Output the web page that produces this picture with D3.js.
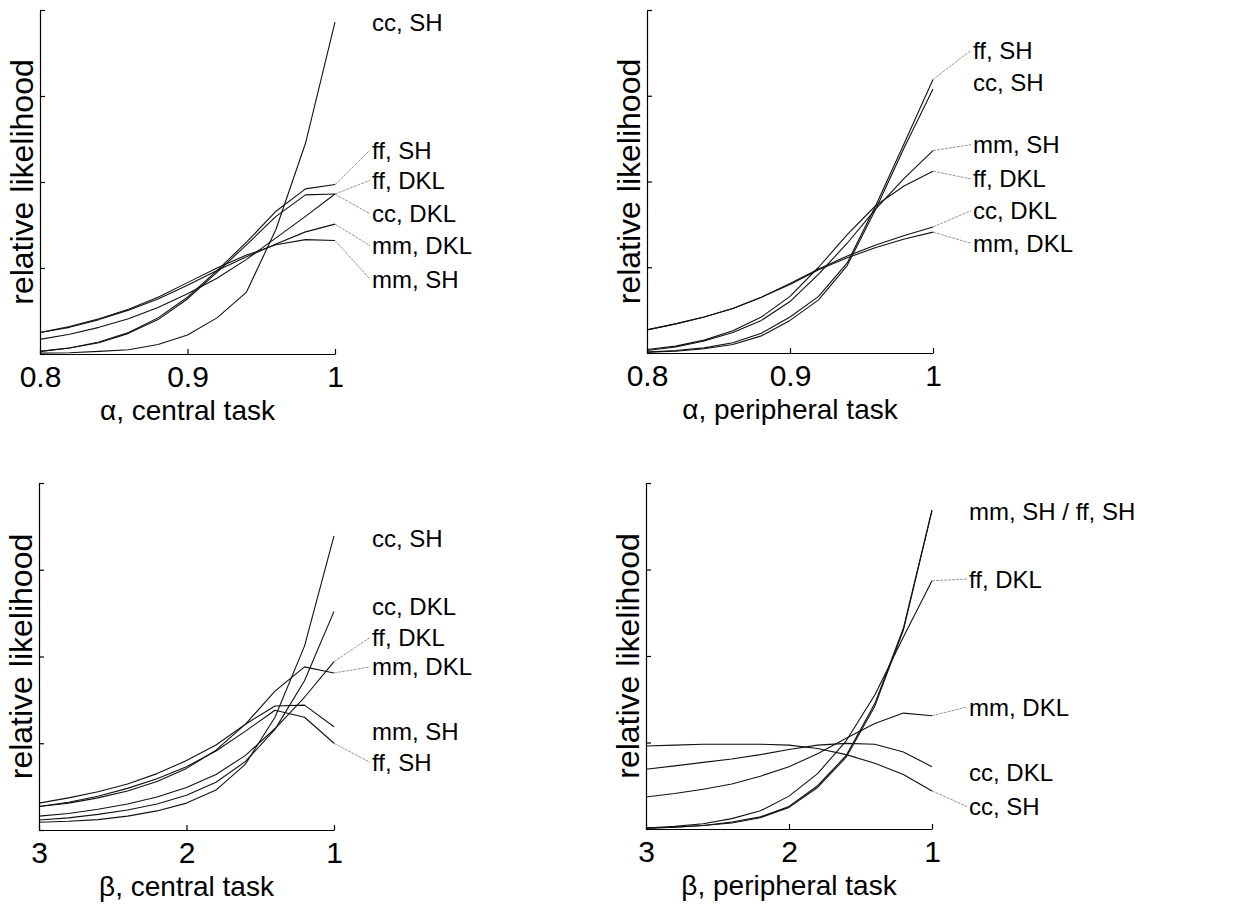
<!DOCTYPE html>
<html>
<head>
<meta charset="utf-8">
<script src="https://cdn.jsdelivr.net/npm/d3@7"></script>
<style>
    body { margin: 0; background: #fff; }
    svg { display: block; font-family: "Liberation Sans", Arial, Helvetica, sans-serif; }
</style>
</head>
<body>
<svg id="chart" width="1257" height="909"></svg>
<script>
// sampled parameter values
const alphaSteps = [0.80, 0.82, 0.84, 0.86, 0.88, 0.90, 0.92, 0.94, 0.96, 0.98, 1.00];
const betaSteps = [3.0, 2.8, 2.6, 2.4, 2.2, 2.0, 1.8, 1.6, 1.4, 1.2, 1.0];
const alphaTicks = [0.8, 0.9, 1];
const betaTicks = [3, 2, 1];

// alpha, central task
const alphaCentralNames = ['cc, SH', 'ff, SH', 'ff, DKL', 'cc, DKL', 'mm, DKL', 'mm, SH'];
const alphaCentralValues = [
    [0.01, 0.015, 0.03, 0.05, 0.11, 0.22, 0.42, 0.72, 1.45, 2.45, 3.86],
    [0.03, 0.07, 0.14, 0.25, 0.42, 0.66, 0.97, 1.30, 1.66, 1.92, 1.97],
    [0.17, 0.23, 0.31, 0.41, 0.54, 0.70, 0.88, 1.10, 1.35, 1.60, 1.86],
    [0.03, 0.07, 0.13, 0.24, 0.40, 0.64, 0.95, 1.27, 1.60, 1.85, 1.86],
    [0.25, 0.31, 0.40, 0.51, 0.64, 0.80, 0.97, 1.13, 1.28, 1.42, 1.51],
    [0.25, 0.32, 0.41, 0.52, 0.66, 0.83, 1.00, 1.15, 1.27, 1.33, 1.32],
];

// alpha, peripheral task
const alphaPeripheralNames = ['ff, SH', 'cc, SH', 'mm, SH', 'ff, DKL', 'cc, DKL', 'mm, DKL'];
const alphaPeripheralValues = [
    [0.01, 0.03, 0.06, 0.12, 0.23, 0.42, 0.66, 1.05, 1.72, 2.45, 3.19],
    [0.01, 0.02, 0.05, 0.10, 0.20, 0.38, 0.62, 1.02, 1.68, 2.40, 3.08],
    [0.03, 0.07, 0.14, 0.24, 0.38, 0.60, 0.92, 1.28, 1.68, 2.04, 2.36],
    [0.04, 0.08, 0.15, 0.26, 0.42, 0.66, 1.00, 1.38, 1.72, 1.95, 2.12],
    [0.27, 0.34, 0.42, 0.52, 0.65, 0.81, 0.98, 1.13, 1.26, 1.37, 1.47],
    [0.27, 0.34, 0.42, 0.52, 0.65, 0.80, 0.97, 1.11, 1.23, 1.33, 1.41],
];

// beta, central task
const betaCentralNames = ['cc, SH', 'cc, DKL', 'ff, DKL', 'mm, DKL', 'mm, SH', 'ff, SH'];
const betaCentralValues = [
    [0.09, 0.10, 0.12, 0.16, 0.22, 0.31, 0.46, 0.76, 1.30, 2.12, 3.39],
    [0.115, 0.14, 0.18, 0.23, 0.30, 0.40, 0.55, 0.79, 1.16, 1.72, 2.52],
    [0.16, 0.19, 0.24, 0.30, 0.38, 0.49, 0.64, 0.86, 1.17, 1.53, 1.94],
    [0.27, 0.31, 0.37, 0.45, 0.56, 0.71, 0.92, 1.22, 1.60, 1.88, 1.81],
    [0.31, 0.37, 0.44, 0.53, 0.65, 0.80, 0.98, 1.22, 1.43, 1.44, 1.19],
    [0.27, 0.32, 0.39, 0.48, 0.59, 0.73, 0.91, 1.14, 1.38, 1.30, 1.00],
];

// beta, peripheral task
const betaPeripheralNames = ['mm, SH', 'ff, SH', 'ff, DKL', 'mm, DKL', 'cc, DKL', 'cc, SH'];
const betaPeripheralValues = [
    [0.01, 0.02, 0.04, 0.08, 0.14, 0.26, 0.50, 0.85, 1.45, 2.32, 3.69],
    [0.01, 0.02, 0.04, 0.07, 0.13, 0.25, 0.48, 0.83, 1.42, 2.30, 3.68],
    [0.01, 0.03, 0.06, 0.12, 0.21, 0.38, 0.64, 1.02, 1.55, 2.22, 2.87],
    [0.37, 0.41, 0.46, 0.52, 0.61, 0.72, 0.87, 1.05, 1.22, 1.34, 1.31],
    [0.69, 0.73, 0.77, 0.81, 0.86, 0.92, 0.97, 0.99, 0.98, 0.89, 0.72],
    [0.96, 0.97, 0.98, 0.98, 0.98, 0.97, 0.93, 0.86, 0.76, 0.63, 0.44],
];

// label texts, the series each one points at, and where it sits (in y units)
const alphaCentralLabels = [
    { text: 'cc, SH', series: 0, y: 3.86, leader: false },
    { text: 'ff, SH', series: 1, y: 2.37, leader: true },
    { text: 'ff, DKL', series: 2, y: 2.02, leader: true },
    { text: 'cc, DKL', series: 3, y: 1.63, leader: true },
    { text: 'mm, DKL', series: 4, y: 1.26, leader: true },
    { text: 'mm, SH', series: 5, y: 0.87, leader: true },
];
const alphaPeripheralLabels = [
    { text: 'ff, SH', series: 0, y: 3.53, leader: true },
    { text: 'cc, SH', series: 1, y: 3.16, leader: false },
    { text: 'mm, SH', series: 2, y: 2.43, leader: true },
    { text: 'ff, DKL', series: 3, y: 2.03, leader: true },
    { text: 'cc, DKL', series: 4, y: 1.66, leader: true },
    { text: 'mm, DKL', series: 5, y: 1.28, leader: true },
];
const betaCentralLabels = [
    { text: 'cc, SH', series: 0, y: 3.36, leader: false },
    { text: 'cc, DKL', series: 1, y: 2.58, leader: false },
    { text: 'ff, DKL', series: 2, y: 2.22, leader: true },
    { text: 'mm, DKL', series: 3, y: 1.88, leader: true },
    { text: 'mm, SH', series: 4, y: 1.13, leader: false },
    { text: 'ff, SH', series: 5, y: 0.78, leader: true },
];
const betaPeripheralLabels = [
    { text: 'mm, SH / ff, SH', series: 0, y: 3.67, leader: false },
    { text: 'ff, DKL', series: 2, y: 2.89, leader: true },
    { text: 'mm, DKL', series: 3, y: 1.41, leader: true },
    { text: 'cc, DKL', series: 4, y: 0.65, leader: false },
    { text: 'cc, SH', series: 5, y: 0.26, leader: true },
];

(function () {
    const svg = d3.select('#chart');

    function drawPanel(p) {
        let x = d3.scaleLinear()
                  .domain([p.steps[0], p.steps[p.steps.length - 1]])
                  .range([p.left, p.right]);
        let y = d3.scaleLinear()
                  .domain([0, 4])
                  .range([p.bottom, p.top]);

        let g = svg.append('g');

        // curves
        let line = d3.line()
                     .x((d, i) => x(p.steps[i]))
                     .y(d => y(d));
        g.selectAll('path.curve')
         .data(p.values)
         .enter()
         .append('path')
         .attr('class', 'curve')
         .attr('d', line)
         .attr('fill', 'none')
         .attr('stroke', '#111')
         .attr('stroke-width', 1.1)
         .attr('stroke-linejoin', 'round');

        // axes, matlab style with ticks pointing in
        let xAxis = g.append('g')
                     .attr('transform', `translate(0, ${p.bottom})`)
                     .call(d3.axisBottom(x)
                             .tickValues(p.ticks)
                             .tickFormat(d3.format('~g'))
                             .tickSizeInner(-5)
                             .tickSizeOuter(0)
                             .tickPadding(12));
        xAxis.selectAll('text')
             .attr('font-size', 30)
             .attr('font-family', '"Liberation Sans", Arial, sans-serif')
             .attr('fill', '#000');

        g.append('g')
         .attr('transform', `translate(${p.left}, 0)`)
         .call(d3.axisLeft(y)
                 .tickValues([0, 1, 2, 3, 4])
                 .tickFormat('')
                 .tickSizeInner(-5)
                 .tickSizeOuter(0));

        g.selectAll('.domain, .tick line')
         .attr('stroke', '#000')
         .attr('stroke-width', 1.2);

        // axis titles
        g.append('text')
         .attr('x', (p.left + p.right) / 2)
         .attr('y', p.bottom + 66)
         .attr('text-anchor', 'middle')
         .attr('font-size', 28)
         .text(p.xTitle);

        g.append('text')
         .attr('transform', `translate(${p.left - 7}, ${(p.top + p.bottom) / 2}) rotate(-90)`)
         .attr('text-anchor', 'middle')
         .attr('font-size', 32)
         .text('relative likelihood');

        // labels with thin leader lines
        let xEnd = x(p.steps[p.steps.length - 1]);
        g.selectAll('line.leader')
         .data(p.labels.filter(d => d.leader))
         .enter()
         .append('line')
         .attr('class', 'leader')
         .attr('x1', xEnd)
         .attr('y1', d => y(p.values[d.series][p.values[d.series].length - 1]))
         .attr('x2', p.labelX - 2)
         .attr('y2', d => y(d.y))
         .attr('stroke', '#8a8a8a')
         .attr('stroke-width', 0.9)
         .attr('stroke-dasharray', '3,1');

        g.selectAll('text.label')
         .data(p.labels)
         .enter()
         .append('text')
         .attr('class', 'label')
         .attr('x', p.labelX)
         .attr('y', d => y(d.y) + 8.5)
         .attr('font-size', 24)
         .text(d => d.text);
    }

    drawPanel({
        steps: alphaSteps, ticks: alphaTicks, values: alphaCentralValues, labels: alphaCentralLabels,
        xTitle: 'α, central task',
        left: 40, right: 335, top: 10, bottom: 354, labelX: 372,
    });
    drawPanel({
        steps: alphaSteps, ticks: alphaTicks, values: alphaPeripheralValues, labels: alphaPeripheralLabels,
        xTitle: 'α, peripheral task',
        left: 647, right: 933, top: 10, bottom: 353, labelX: 973,
    });
    drawPanel({
        steps: betaSteps, ticks: betaTicks, values: betaCentralValues, labels: betaCentralLabels,
        xTitle: 'β, central task',
        left: 39, right: 334, top: 483, bottom: 830, labelX: 372,
    });
    drawPanel({
        steps: betaSteps, ticks: betaTicks, values: betaPeripheralValues, labels: betaPeripheralLabels,
        xTitle: 'β, peripheral task',
        left: 646, right: 932, top: 483, bottom: 829, labelX: 969,
    });
})();
</script>
</body>
</html>
